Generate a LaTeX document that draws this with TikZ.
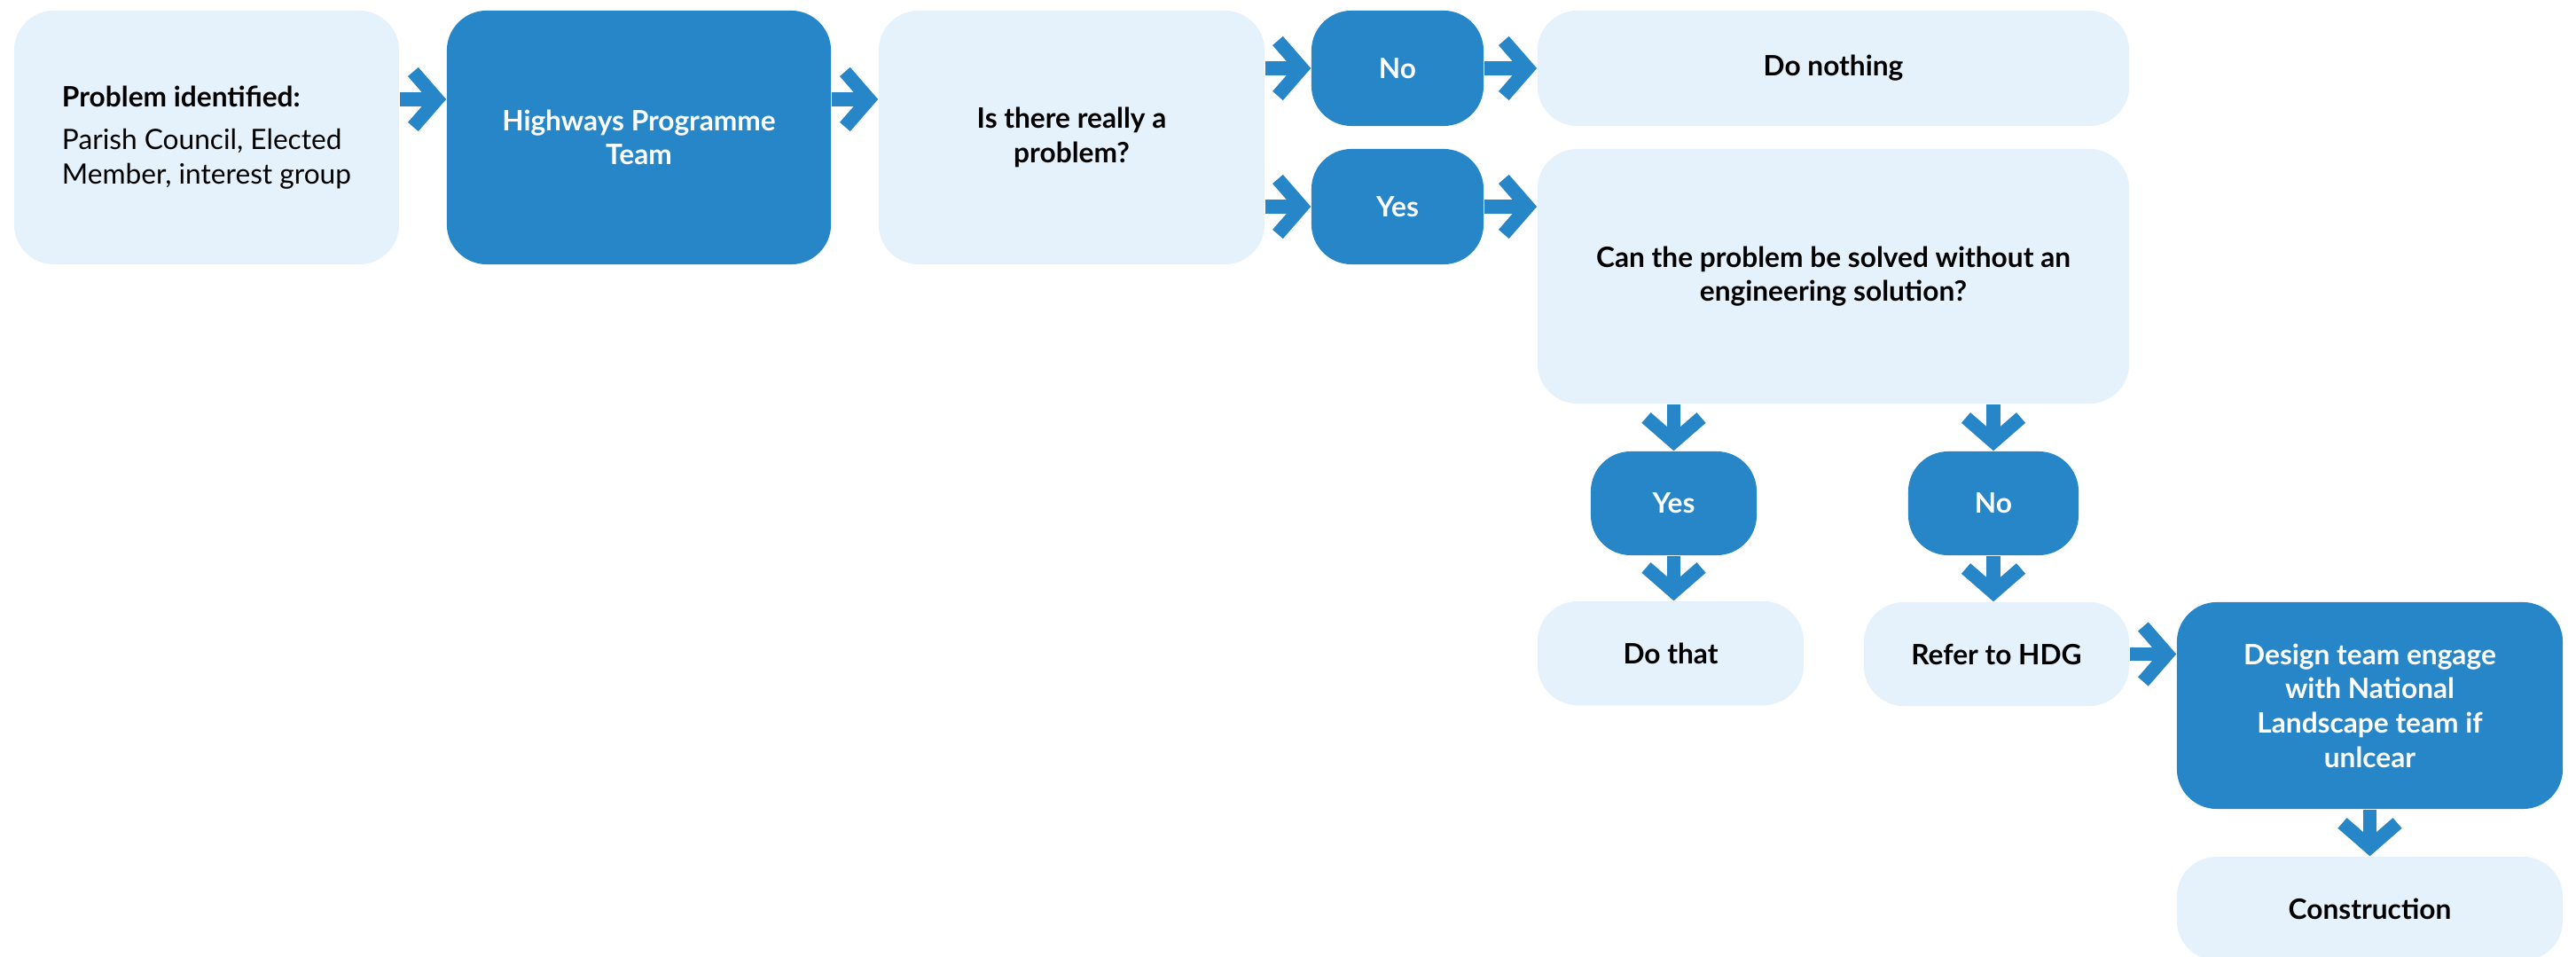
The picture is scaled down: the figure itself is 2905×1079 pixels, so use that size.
\documentclass[tikz,border=0pt]{standalone}
\usepackage{fontspec}
\setmainfont{Lato}
\usetikzlibrary{arrows.meta}
\definecolor{hwblue}{HTML}{2686C8}
\definecolor{hwpale}{HTML}{E6F2FB}
\tikzset{
  box/.style={rectangle, rounded corners=0.45cm, fill=hwpale, text=black,
    font=\fontsize{9}{11}\selectfont\bfseries, align=center, inner sep=0pt},
  darkbox/.style={box, fill=hwblue, text=white},
  flow/.style={draw=hwblue, line width=1.55mm, -{Straight Barb[length=2.7mm,width=6.2mm,sharp]}},
}

\begin{document}
\begin{tikzpicture}[x=0.01cm, y=-0.01cm]
\useasboundingbox (0,0) rectangle (2905,1079);
% top row
\node[box, minimum width=4.34cm, minimum height=2.86cm, align=left] (prob) at (233,155)
  {Problem identified:\\[1mm] \mdseries Parish Council, Elected\\ \mdseries Member, interest group};
\node[darkbox, minimum width=4.33cm, minimum height=2.86cm] (hpt) at (720.5,155) {Highways Programme\\Team};
\node[box, minimum width=4.35cm, minimum height=2.86cm] (isprob) at (1208.5,155) {Is there really a\\problem?};
\node[darkbox, minimum width=1.94cm, minimum height=1.30cm] (no1) at (1576,77) {No};
\node[darkbox, minimum width=1.94cm, minimum height=1.30cm] (yes1) at (1576,233) {Yes};
\node[box, minimum width=6.67cm, minimum height=1.30cm] (nothing) at (2067.5,77) {Do nothing};
\node[box, minimum width=6.67cm, minimum height=2.87cm] (canprob) at (2067.5,311.5) {Can the problem be solved without an\\engineering solution?};
% lower branch
\node[darkbox, minimum width=1.87cm, minimum height=1.17cm] (yes2) at (1887.5,567.5) {Yes};
\node[darkbox, minimum width=1.92cm, minimum height=1.17cm] (no2) at (2248,567.5) {No};
\node[box, minimum width=3.00cm, minimum height=1.17cm] (dothat) at (1884,736.5) {Do that};
\node[box, minimum width=2.99cm, minimum height=1.17cm] (hdg) at (2251.5,737.5) {Refer to HDG};
\node[darkbox, minimum width=4.35cm, minimum height=2.33cm] (design) at (2672.5,795.5) {Design team engage\\with National\\Landscape team if\\unlcear};
\node[box, minimum width=4.35cm, minimum height=1.17cm] (constr) at (2672.5,1024.5) {Construction};
% arrows
\draw[flow] ([yshift=4.3mm]prob.east) -- ([yshift=4.3mm]hpt.west);
\draw[flow] ([yshift=4.3mm]hpt.east) -- ([yshift=4.3mm]isprob.west);
\draw[flow] (isprob.east |- no1) -- (no1.west);
\draw[flow] (isprob.east |- yes1) -- (yes1.west);
\draw[flow] (no1.east) -- (nothing.west);
\draw[flow] (yes1.east) -- (canprob.west |- yes1);
\draw[flow] (yes2 |- canprob.south) -- (yes2.north);
\draw[flow] (no2 |- canprob.south) -- (no2.north);
\draw[flow] (yes2.south) -- (yes2 |- dothat.north);
\draw[flow] (no2.south) -- (no2 |- hdg.north);
\draw[flow] (hdg.east) -- (design.west |- hdg);
\draw[flow] (design.south) -- (constr.north);
\end{tikzpicture}
\end{document}
